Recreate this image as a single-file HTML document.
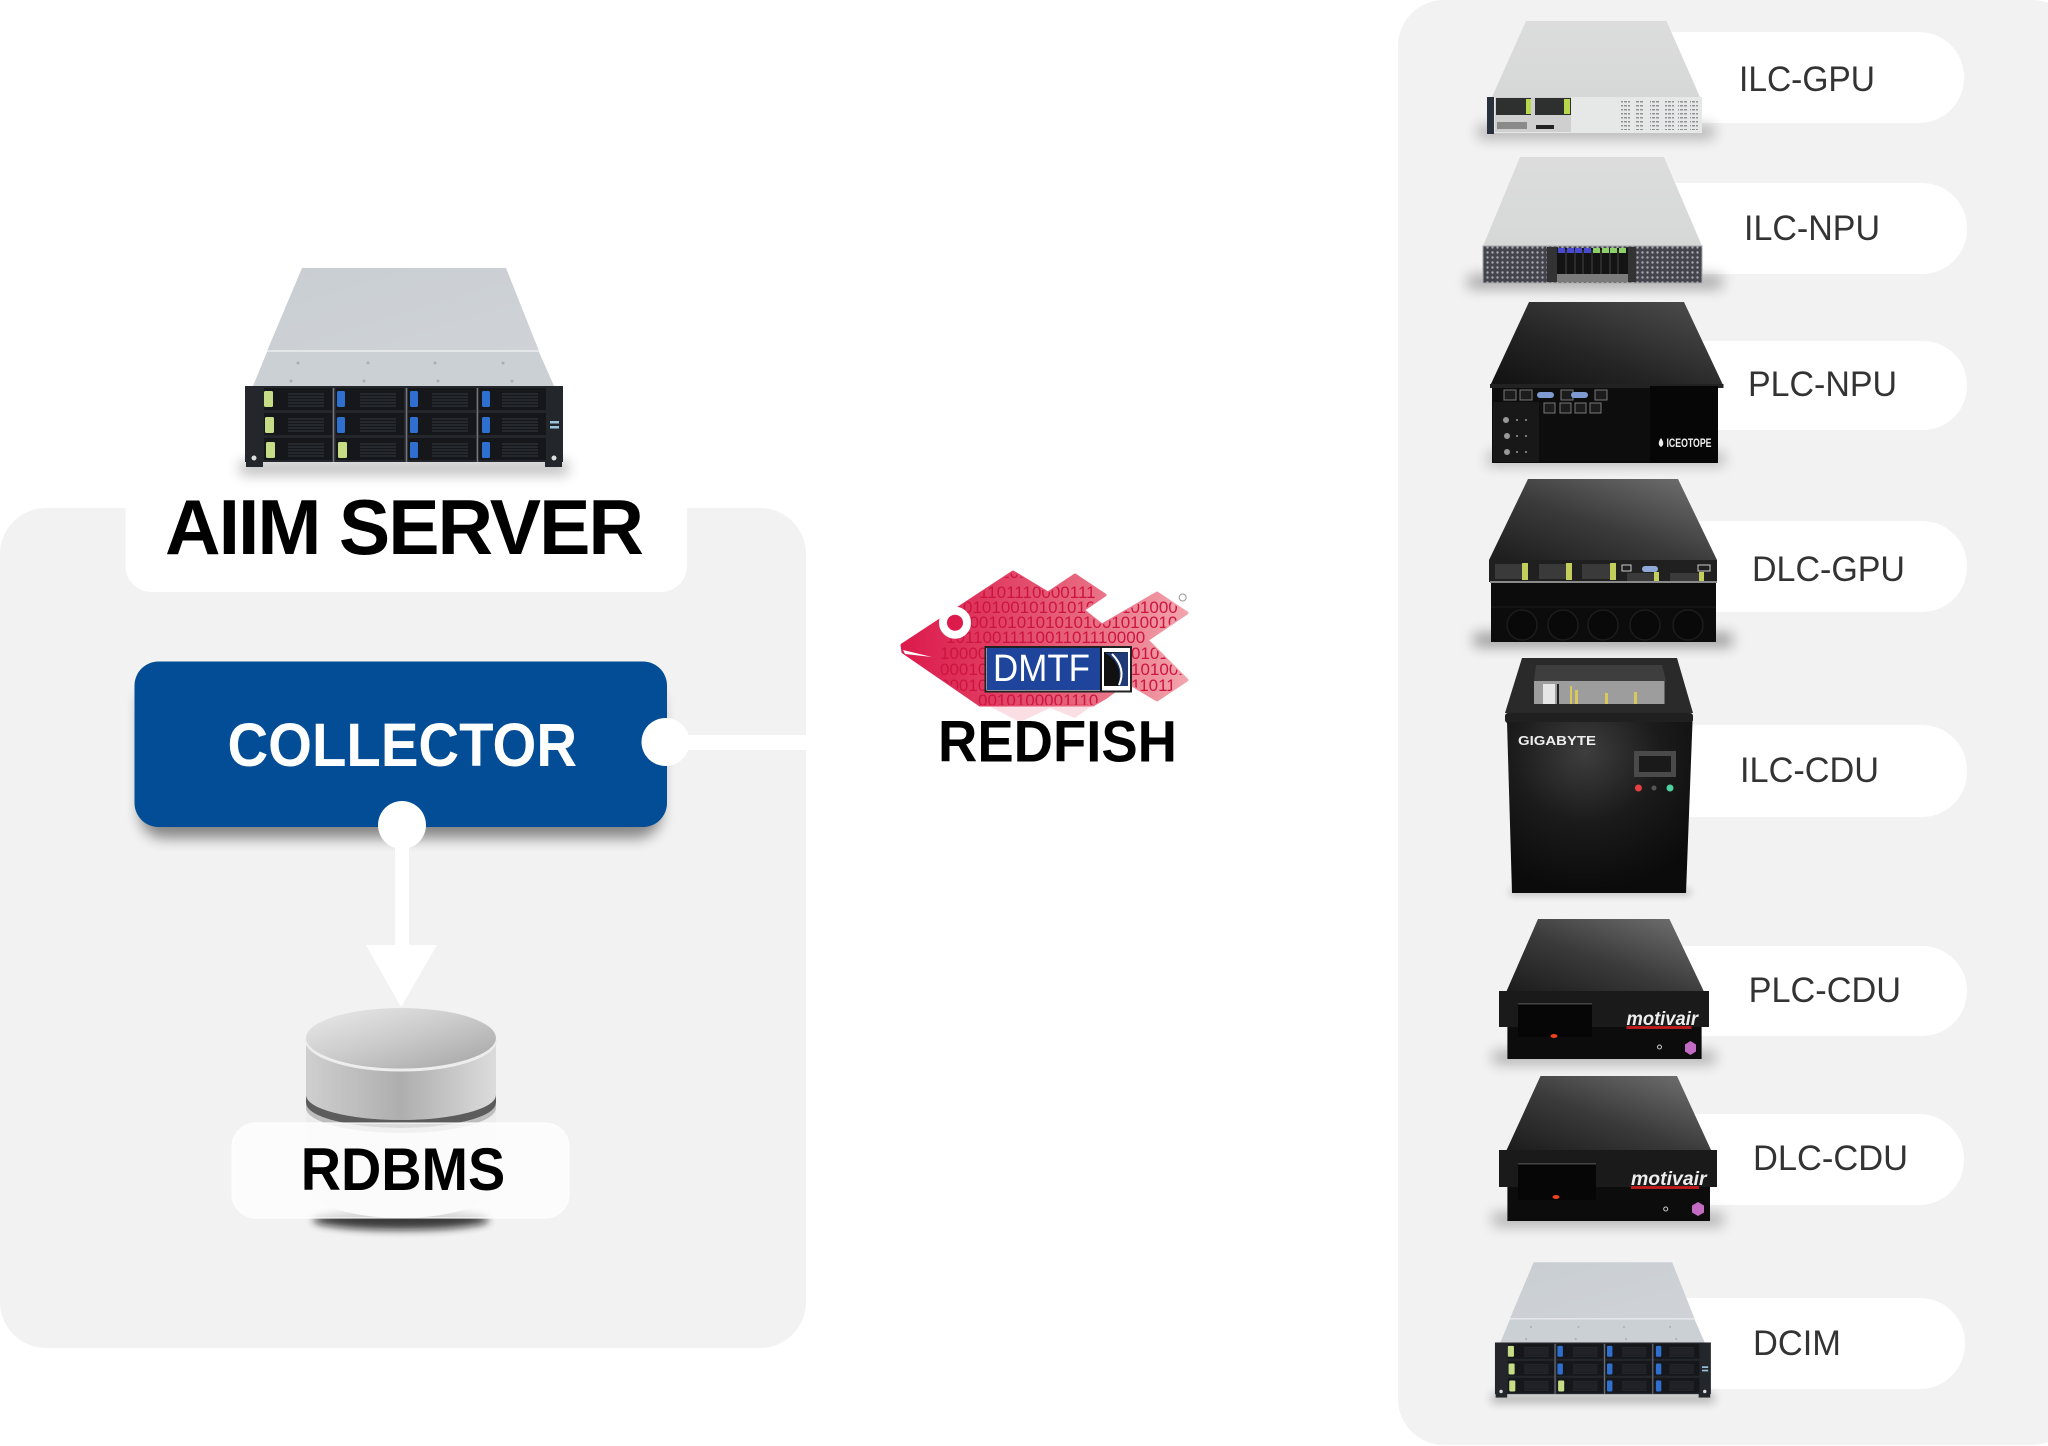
<!DOCTYPE html>
<html><head><meta charset="utf-8"><title>AIIM Redfish diagram</title>
<style>html,body{margin:0;padding:0;background:#fff}svg{display:block}text{font-family:"Liberation Sans",sans-serif}</style></head>
<body>
<svg xmlns="http://www.w3.org/2000/svg" width="2048" height="1446" viewBox="0 0 2048 1446">
<defs>
<filter id="b4" x="-30%" y="-300%" width="160%" height="700%"><feGaussianBlur stdDeviation="4"/></filter>
<filter id="b7" x="-30%" y="-300%" width="160%" height="700%"><feGaussianBlur stdDeviation="7"/></filter>
<filter id="bb" x="-10%" y="-20%" width="120%" height="140%"><feGaussianBlur stdDeviation="7"/></filter>
<linearGradient id="lt" x1="0" y1="0" x2="1" y2="1"><stop offset="0" stop-color="#c9ced2"/><stop offset="1" stop-color="#cfd3d7"/></linearGradient>
<linearGradient id="grey" x1="0" y1="0" x2="0" y2="1"><stop offset="0" stop-color="#dcdcdc"/><stop offset="1" stop-color="#d6d8d8"/></linearGradient>
<linearGradient id="blk" x1="1" y1="0" x2="0" y2="1"><stop offset="0" stop-color="#747474"/><stop offset=".55" stop-color="#3a3a3a"/><stop offset="1" stop-color="#1c1c1c"/></linearGradient>
<linearGradient id="blk2" x1="1" y1="0" x2="0" y2="1"><stop offset="0" stop-color="#505050"/><stop offset=".6" stop-color="#252525"/><stop offset="1" stop-color="#111"/></linearGradient>
<linearGradient id="fish" x1="0" y1="0" x2="1" y2="0"><stop offset="0" stop-color="#dc1a4c"/><stop offset=".3" stop-color="#e03a60"/><stop offset=".65" stop-color="#e86a80"/><stop offset="1" stop-color="#f2a4ac"/></linearGradient>
<linearGradient id="cyl" x1="0" y1="0" x2="1" y2="0"><stop offset="0" stop-color="#cfcfcf"/><stop offset=".5" stop-color="#aeaeae"/><stop offset="1" stop-color="#dcdcdc"/></linearGradient>
<linearGradient id="cyltop" x1="0" y1="0" x2="1" y2="1"><stop offset="0" stop-color="#ebebeb"/><stop offset=".5" stop-color="#cacaca"/><stop offset="1" stop-color="#a4a4a4"/></linearGradient>
<radialGradient id="cab" cx=".42" cy=".18" r=".8"><stop offset="0" stop-color="#3e3e3e"/><stop offset=".5" stop-color="#1b1b1b"/><stop offset="1" stop-color="#0b0b0b"/></radialGradient>
<pattern id="mesh" width="5" height="5" patternUnits="userSpaceOnUse"><rect width="5" height="5" fill="#44444c"/><circle cx="2.500" cy="2.500" r="1.200" fill="#a8a8b2"/></pattern>
<pattern id="lbl" width="4" height="4" patternUnits="userSpaceOnUse"><rect width="4" height="4" fill="#e6e7e7"/><rect x="0" y="1" width="3" height="1.500" fill="#8f9494"/></pattern>
<clipPath id="fc"><path d="M902 645L1013 572L1048 593L1075 575L1105 595L1083 610L1102 625L1157 593L1187 613L1147 640L1187 680L1157 700L1127 682L1105 698L1093 705L980 705L903 652Z"/></clipPath>

<g id="drive"><rect width="68" height="22" fill="#15171b"/><path d="M24 6h36M24 9h36M24 12h36M24 15h36M24 18h36" stroke="#2b2e33" stroke-width="1.500"/></g>
<g id="srv">
<rect x="240" y="462" width="328" height="12" fill="#000" opacity=".3" filter="url(#b7)"/>
<polygon points="302,268 506,268 539,351 267,351" fill="url(#lt)"/>
<polygon points="267,352 539,352 554,386 253,386" fill="#cbd0d5"/>
<path d="M267 351H539" stroke="#e4e7ea" stroke-width="2"/>
<g fill="#a9aeb3"><circle cx="298" cy="363" r="1.500"/><circle cx="368" cy="363" r="1.500"/><circle cx="435" cy="363" r="1.500"/><circle cx="503" cy="363" r="1.500"/><circle cx="291" cy="381" r="1.500"/><circle cx="364" cy="381" r="1.500"/><circle cx="438" cy="381" r="1.500"/><circle cx="512" cy="381" r="1.500"/></g>
<rect x="245" y="386" width="318" height="76" fill="#23262b"/>
<rect x="246" y="440" width="17" height="27" fill="#23262b"/><rect x="545" y="440" width="17" height="27" fill="#23262b"/>
<use href="#drive" x="264" y="388"/><use href="#drive" x="336" y="388"/><use href="#drive" x="408" y="388"/><use href="#drive" x="478" y="388"/>
<use href="#drive" x="264" y="413"/><use href="#drive" x="336" y="413"/><use href="#drive" x="408" y="413"/><use href="#drive" x="478" y="413"/>
<use href="#drive" x="264" y="438"/><use href="#drive" x="336" y="438"/><use href="#drive" x="408" y="438"/><use href="#drive" x="478" y="438"/>
<path d="M333.500 388V462M406.500 388V462M477.500 388V462" stroke="#73777c" stroke-width="1.500"/>
<g fill="#c6dc86"><rect x="264" y="391" width="9" height="16" rx="1.500"/><rect x="265" y="417" width="9" height="16" rx="1.500"/><rect x="266" y="442" width="9" height="16" rx="1.500"/><rect x="338" y="442" width="9" height="16" rx="1.500"/></g>
<g fill="#2f6fd0"><rect x="337" y="391" width="8" height="16" rx="1.500"/><rect x="337" y="417" width="8" height="16" rx="1.500"/><rect x="410" y="391" width="8" height="16" rx="1.500"/><rect x="410" y="417" width="8" height="16" rx="1.500"/><rect x="410" y="442" width="8" height="16" rx="1.500"/><rect x="482" y="391" width="8" height="16" rx="1.500"/><rect x="482" y="417" width="8" height="16" rx="1.500"/><rect x="482" y="442" width="8" height="16" rx="1.500"/></g>
<rect x="550" y="421" width="9" height="2.500" fill="#9cc3dc"/><rect x="550" y="426" width="9" height="2.500" fill="#9cc3dc"/>
<circle cx="254" cy="458" r="2.500" fill="#ddd"/><circle cx="554" cy="458" r="2.500" fill="#ddd"/>
</g>
</defs>

<rect width="2048" height="1446" fill="#fff"/>
<!-- panels -->
<rect x="0" y="508" width="806" height="840" rx="46" fill="#f2f2f2"/>
<rect x="1398" y="0" width="680" height="1445" rx="46" fill="#f2f2f2"/>

<!-- left content -->
<rect x="125.500" y="430" width="561.500" height="162" rx="26" fill="#fff"/>
<use href="#srv"/>
<text x="165" y="554" font-size="78" font-weight="700" fill="#000" letter-spacing="-2" textLength="477" lengthAdjust="spacingAndGlyphs">AIIM SERVER</text>

<rect x="140" y="682" width="521" height="156" rx="24" fill="#000" opacity=".45" filter="url(#bb)"/>
<rect x="134.500" y="661.500" width="532.500" height="165.500" rx="24" fill="#024d95"/>
<text x="227.500" y="766" font-size="61" font-weight="700" fill="#fff" textLength="349.500" lengthAdjust="spacingAndGlyphs">COLLECTOR</text>
<rect x="665" y="735" width="145" height="15" fill="#fff"/>
<circle cx="665.500" cy="742" r="24" fill="#fff"/>
<rect x="395" y="825" width="14" height="125" fill="#fff"/>
<circle cx="402" cy="825" r="24" fill="#fff"/>
<polygon points="366,945 437,945 401,1007" fill="#fff"/>

<!-- cylinder -->
<ellipse cx="401" cy="1220" rx="88" ry="10" fill="#111" opacity=".8" filter="url(#b4)"/>
<path d="M306 1095V1185A95 33 0 0 0 496 1185V1095Z" fill="#ededed"/>
<path d="M306 1039V1095A95 25 0 0 0 496 1095V1039Z" fill="url(#cyl)"/>
<path d="M306 1095A95 25 0 0 0 496 1095V1103A95 25 0 0 1 306 1103Z" fill="#5c5c5c"/>
<path d="M306 1103A95 25 0 0 0 496 1103V1108A95 25 0 0 1 306 1108Z" fill="#bdbdbd"/>
<path d="M306 1039A95 31 0 0 0 496 1039" fill="none" stroke="#ededed" stroke-width="3"/>
<ellipse cx="401" cy="1038" rx="95" ry="30" fill="url(#cyltop)"/>
<rect x="232" y="1123" width="337" height="95" rx="24" fill="#fff" fill-opacity=".78" stroke="#fff" stroke-opacity=".7" stroke-width="1.500"/>
<text x="300.700" y="1190" font-size="60" font-weight="700" fill="#000" textLength="204.500" lengthAdjust="spacingAndGlyphs">RDBMS</text>

<!-- fish -->
<polygon points="987,705 1093,705 1075,718 1050,708 1020,722" fill="#e8697f" opacity=".22"/>
<path d="M902 645L1013 572L1048 593L1075 575L1105 595L1083 610L1102 625L1157 593L1187 613L1147 640L1187 680L1157 700L1127 682L1105 698L1093 705L980 705L903 652Z" fill="url(#fish)" stroke="url(#fish)" stroke-width="3" stroke-linejoin="round"/>
<g clip-path="url(#fc)" font-size="17" fill="#cd1440">
<text x="1000" y="578">1010010</text>
<text x="979" y="598">1101110000111</text>
<text x="963" y="613">0101001010101010</text><text x="1121" y="613">101000</text>
<text x="960" y="628">00010101010101001010010</text>
<text x="946" y="643">1011001111001101110000</text>
<text x="940" y="659">100001</text><text x="1131" y="659">0101</text>
<text x="940" y="675">000100</text><text x="1131" y="675">101001</text>
<text x="940" y="691">000100</text><text x="1131" y="691">11011</text>
<text x="978" y="706">0010100001110</text>
</g>
<circle cx="955" cy="622.700" r="12" fill="#dc1a4c" stroke="#fff" stroke-width="8"/>
<polygon points="903,650 932,657 905,654" fill="#fff"/>
<rect x="985.500" y="647" width="145.500" height="44.500" fill="#fff" stroke="#222" stroke-width="2"/>
<rect x="987" y="648" width="113" height="42" fill="#1f449c"/>
<rect x="1100" y="647" width="2" height="44" fill="#111"/>
<text x="993" y="681" font-size="38" fill="#fff" textLength="97" lengthAdjust="spacingAndGlyphs">DMTF</text>
<rect x="1104" y="652" width="24" height="34" fill="#111"/>
<path d="M1105 653C1118 660 1122 672 1118 686H1128V652Z" fill="#1f3a74"/>
<path d="M1112 654C1122 664 1124 674 1119 685" fill="none" stroke="#fff" stroke-width="2"/>
<circle cx="1182.700" cy="597.500" r="3.500" fill="none" stroke="#999"/>
<text x="938" y="761.700" font-size="58" font-weight="700" fill="#000" textLength="239" lengthAdjust="spacingAndGlyphs">REDFISH</text>

<!-- pills -->
<g fill="#fff">
<rect x="1620" y="32" width="344" height="91" rx="45"/>
<rect x="1620" y="183" width="347" height="91" rx="45"/>
<rect x="1620" y="341" width="347" height="89" rx="44"/>
<rect x="1620" y="521" width="347" height="91" rx="45"/>
<rect x="1620" y="725" width="347" height="92" rx="45"/>
<rect x="1620" y="946" width="347" height="90" rx="45"/>
<rect x="1620" y="1114" width="344" height="91" rx="45"/>
<rect x="1620" y="1298" width="345" height="91" rx="45"/>
</g>
<g font-size="35" fill="#333">
<text x="1739" y="91" textLength="136" lengthAdjust="spacingAndGlyphs">ILC-GPU</text>
<text x="1744" y="240" textLength="136" lengthAdjust="spacingAndGlyphs">ILC-NPU</text>
<text x="1748" y="396" textLength="149" lengthAdjust="spacingAndGlyphs">PLC-NPU</text>
<text x="1752" y="581" textLength="153" lengthAdjust="spacingAndGlyphs">DLC-GPU</text>
<text x="1740" y="782" textLength="139" lengthAdjust="spacingAndGlyphs">ILC-CDU</text>
<text x="1748.600" y="1002" textLength="152.400" lengthAdjust="spacingAndGlyphs">PLC-CDU</text>
<text x="1753" y="1170" textLength="155" lengthAdjust="spacingAndGlyphs">DLC-CDU</text>
<text x="1753" y="1355" textLength="88" lengthAdjust="spacingAndGlyphs">DCIM</text>
</g>

<!-- ILC-GPU -->
<rect x="1478" y="126" width="236" height="12" fill="#000" opacity=".3" filter="url(#b7)"/>
<polygon points="1526,21 1666.500,21 1700,97 1492,97" fill="url(#grey)"/>
<rect x="1487" y="97" width="215" height="36" fill="#e6e7e7"/>
<rect x="1495" y="97" width="76" height="35" fill="#cfcfcf"/>
<rect x="1496" y="98" width="35" height="17" fill="#2e3030"/><rect x="1535" y="98" width="36" height="17" fill="#2e3030"/>
<rect x="1526" y="99" width="5" height="15" fill="#b6d84a"/><rect x="1564" y="99" width="6" height="15" fill="#b6d84a"/>
<rect x="1487" y="97" width="7" height="37" fill="#28313c"/>
<rect x="1497" y="122" width="30" height="7" fill="#8a8a8a"/>
<rect x="1536" y="125" width="18" height="4" fill="#222"/>
<g fill="url(#lbl)"><rect x="1621" y="99" width="9" height="31"/><rect x="1636" y="99" width="8" height="31"/><rect x="1650" y="99" width="9" height="31"/><rect x="1665" y="99" width="9" height="31"/><rect x="1678" y="99" width="9" height="31"/><rect x="1690" y="99" width="8" height="31"/></g>

<!-- ILC-NPU -->
<rect x="1468" y="276" width="254" height="12" fill="#000" opacity=".35" filter="url(#b7)"/>
<polygon points="1520,157 1664,157 1702,246 1483,246" fill="url(#grey)"/>
<rect x="1483" y="246" width="219" height="37" fill="url(#mesh)"/>
<rect x="1483" y="246" width="219" height="37" fill="none" stroke="#a8a8a8" stroke-width="1"/>
<rect x="1547" y="247" width="11" height="35" fill="#333"/><rect x="1626" y="247" width="10" height="35" fill="#333"/>
<rect x="1557" y="248" width="71" height="27" fill="#141414"/>
<rect x="1557" y="274" width="71" height="8" fill="#7b7b7b"/>
<path d="M1566 250V274M1575 250V274M1583 250V274M1592 250V274M1601 250V274M1610 250V274M1618 250V274" stroke="#444"/>
<g fill="#4a4ad0"><rect x="1558" y="248" width="7" height="5"/><rect x="1567" y="248" width="7" height="5"/><rect x="1575" y="248" width="7" height="5"/><rect x="1584" y="248" width="7" height="5"/></g>
<g fill="#8ed069"><rect x="1593" y="248" width="7" height="5"/><rect x="1602" y="248" width="7" height="5"/><rect x="1610" y="248" width="7" height="5"/><rect x="1619" y="248" width="7" height="5"/></g>

<!-- PLC-NPU -->
<rect x="1488" y="453" width="236" height="12" fill="#000" opacity=".28" filter="url(#b7)"/>
<polygon points="1529,302 1684,302 1723.500,386 1490,386" fill="url(#blk2)"/>
<rect x="1492" y="386" width="226" height="77" fill="#0d0d0d"/>
<rect x="1490" y="384" width="233.500" height="4" fill="#222"/>
<rect x="1493" y="402" width="46" height="60" fill="#181818"/>
<rect x="1650" y="386" width="68" height="77" fill="#060606"/>
<g fill="#1c1c1c" stroke="#777"><rect x="1504" y="390" width="12" height="10"/><rect x="1520" y="390" width="12" height="10"/><rect x="1561" y="390" width="12" height="10"/><rect x="1595" y="390" width="12" height="10"/><rect x="1544" y="403" width="11" height="10"/><rect x="1560" y="403" width="11" height="10"/><rect x="1575" y="403" width="11" height="10"/><rect x="1590" y="403" width="11" height="10"/></g>
<rect x="1537" y="392" width="17" height="6" rx="3" fill="#7f9ad0"/><rect x="1571" y="392" width="17" height="6" rx="3" fill="#7f9ad0"/>
<g fill="#999"><circle cx="1506" cy="420" r="3"/><circle cx="1507" cy="436" r="3"/><circle cx="1507" cy="452" r="3"/><circle cx="1517" cy="420" r="1"/><circle cx="1526" cy="420" r="1"/><circle cx="1517" cy="436" r="1"/><circle cx="1526" cy="436" r="1"/><circle cx="1517" cy="452" r="1"/><circle cx="1526" cy="452" r="1"/></g>
<text x="1666.500" y="447" font-size="12" font-weight="700" fill="#eee" textLength="45" lengthAdjust="spacingAndGlyphs">ICEOTOPE</text>
<path d="M1661 438c-3 4-3 7 0 9c3-2 3-5 0-9z" fill="#eee"/>

<!-- DLC-GPU -->
<rect x="1474" y="634" width="258" height="12" fill="#000" opacity=".42" filter="url(#b7)"/>
<polygon points="1528,479 1678,479 1717,560 1489,560" fill="url(#blk)"/>
<rect x="1489" y="560" width="228" height="22" fill="#202020"/>
<rect x="1491" y="582" width="225" height="60" fill="#0c0c0c"/>
<rect x="1490" y="581" width="227" height="2" fill="#8a8a8a"/>
<g fill="#3a3a3a"><rect x="1495" y="564" width="28" height="15"/><rect x="1539" y="564" width="28" height="15"/><rect x="1582" y="564" width="28" height="15"/><rect x="1627" y="573" width="27" height="8"/><rect x="1670" y="573" width="29" height="8"/></g>
<g fill="#c2cf5d"><rect x="1522" y="563" width="6" height="17"/><rect x="1566" y="563" width="6" height="17"/><rect x="1610" y="563" width="6" height="17"/><rect x="1654" y="572" width="5" height="9"/><rect x="1699" y="572" width="5" height="9"/></g>
<rect x="1642" y="566" width="16" height="6" rx="3" fill="#8fa9d8"/>
<rect x="1622" y="565" width="9" height="6" fill="none" stroke="#ccc"/><rect x="1698" y="565" width="12" height="6" fill="none" stroke="#ccc"/>
<path d="M1491 607H1716" stroke="#1b1b1b"/>
<g fill="#090909" stroke="#1c1c1c" stroke-width="1.500"><circle cx="1522" cy="625" r="15"/><circle cx="1563" cy="625" r="15"/><circle cx="1603" cy="625" r="15"/><circle cx="1645" cy="625" r="15"/><circle cx="1688" cy="625" r="15"/></g>

<!-- Gigabyte -->
<rect x="1510" y="889" width="180" height="6" fill="#000" opacity=".25" filter="url(#b4)"/>
<polygon points="1522,658 1677,658 1693,713 1505,713" fill="#2a2a2a"/>
<polygon points="1536,665 1662,665 1666,681 1534,681" fill="#3e3e3e"/>
<rect x="1534" y="681" width="130.500" height="23" fill="#9d9d9d"/>
<rect x="1543" y="684" width="12" height="20" fill="#e6e6e6"/><rect x="1557" y="684" width="2" height="20" fill="#222"/>
<rect x="1570" y="686" width="2" height="18" fill="#d8c95a"/><rect x="1575" y="690" width="3" height="14" fill="#d8c95a"/><rect x="1605" y="693" width="3" height="11" fill="#d8c95a"/><rect x="1634" y="692" width="3" height="12" fill="#d8c95a"/>
<rect x="1505" y="713" width="188" height="10" rx="3" fill="#202020"/>
<polygon points="1507,722 1692.500,722 1686,893 1512,893" fill="url(#cab)"/>
<text x="1518" y="745" font-size="13" font-weight="700" fill="#eee" textLength="78" lengthAdjust="spacingAndGlyphs">GIGABYTE</text>
<rect x="1634" y="751" width="42" height="26" fill="#4a4a4a"/>
<rect x="1639" y="756" width="32" height="16" fill="#1a1a1a"/>
<circle cx="1638.400" cy="788" r="3.500" fill="#e84040"/><circle cx="1654" cy="788" r="2.500" fill="#555"/><circle cx="1670" cy="788" r="3.500" fill="#4fd0a0"/>

<!-- PLC-CDU -->
<rect x="1493" y="1052" width="222" height="11" fill="#000" opacity=".33" filter="url(#b7)"/>
<polygon points="1538,919 1669.400,919 1703.700,991 1506.600,991" fill="url(#blk)"/>
<rect x="1499" y="991" width="210" height="36" fill="#1a1a1a"/>
<rect x="1507.400" y="1027" width="194.200" height="32" fill="#0c0c0c"/>
<rect x="1518" y="1003" width="74" height="34" fill="#060606"/>
<rect x="1518" y="1003" width="74" height="1.500" fill="#444"/>
<ellipse cx="1554" cy="1036" rx="3.500" ry="2" fill="#e8431b"/>
<text x="1626.500" y="1025" font-size="19" font-weight="700" font-style="italic" fill="#eee" textLength="71.500" lengthAdjust="spacingAndGlyphs">motivair</text>
<rect x="1626.500" y="1026" width="65" height="3" fill="#b81c1c"/>
<circle cx="1659.500" cy="1047" r="2" fill="none" stroke="#ccc"/>
<polygon points="1690.500,1041 1696,1044.500 1696,1051.500 1690.500,1055 1685,1051.500 1685,1044.500" fill="#c26bc2"/>

<!-- DLC-CDU -->
<rect x="1493" y="1214" width="230" height="11" fill="#000" opacity=".33" filter="url(#b7)"/>
<polygon points="1540.500,1076 1677,1076 1711,1150 1506.600,1150" fill="url(#blk)"/>
<rect x="1499" y="1150" width="218" height="37" fill="#1a1a1a"/>
<rect x="1507.400" y="1187" width="202.600" height="34" fill="#0c0c0c"/>
<rect x="1518" y="1163" width="78" height="37" fill="#060606"/>
<rect x="1518" y="1163" width="78" height="1.500" fill="#444"/>
<ellipse cx="1556" cy="1197" rx="3.500" ry="2" fill="#e8431b"/>
<text x="1631" y="1185" font-size="19" font-weight="700" font-style="italic" fill="#eee" textLength="75.600" lengthAdjust="spacingAndGlyphs">motivair</text>
<rect x="1631" y="1186" width="68" height="3" fill="#b81c1c"/>
<circle cx="1665.700" cy="1209" r="2" fill="none" stroke="#ccc"/>
<polygon points="1698,1202 1704,1205.500 1704,1212.500 1698,1216 1692,1212.500 1692,1205.500" fill="#c26bc2"/>

<!-- DCIM -->
<use href="#srv" transform="translate(1328.600,1080) scale(0.679,0.68)"/>
</svg>
</body></html>
